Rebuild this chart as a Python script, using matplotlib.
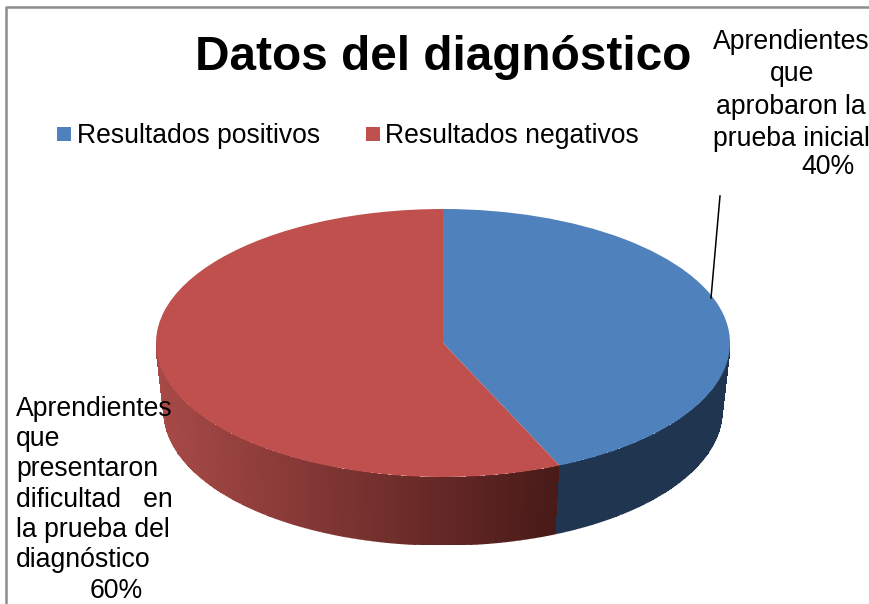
import matplotlib
matplotlib.use('Agg')
import matplotlib.pyplot as plt
from matplotlib.collections import LineCollection
import numpy as np

plt.rcParams['font.family'] = ['Liberation Sans', 'DejaVu Sans']

categorias = ['Resultados positivos', 'Resultados negativos']
porciones = [43.35, 56.65]  # area as drawn, the labels say 40/60
colores = ['#4F81BD', '#C0504D']
etiqueta_der = ['Aprendientes', 'que', 'aprobaron la', 'prueba inicial', '40%']
etiqueta_izq = ['Aprendientes', 'que', 'presentaron', 'dificultad   en', 'la prueba del', 'diagnóstico', '60%']

W, H = 870, 604
fig = plt.figure(figsize=(W / 100, H / 100), dpi=100)

# full figure axes in pixels, for texts and frame
bg = fig.add_axes([0, 0, 1, 1])
bg.set_xlim(0, W)
bg.set_ylim(H, 0)
bg.axis('off')
bg.plot([6, 6, W], [H, 7, 7], color='#8c8c8c', lw=1.8, zorder=1)

# pie axes: the unit circle gets squashed into the ellipse
x0, x1, y0, y1 = 156, 730, 209, 545
rx = (x1 - x0) / 2
ry = 134
prof = (y1 - y0 - 2 * ry) / ry
ax = fig.add_axes([x0 / W, 1 - y1 / H, (x1 - x0) / W, (y1 - y0) / H])
ax.pie(porciones, colors=colores, startangle=90, counterclock=False, radius=1,
       wedgeprops={'linewidth': 0})
ax.set_aspect('auto')
ax.set_xlim(-1, 1)
ax.set_ylim(-1 - prof, 1)
ax.axis('off')
for w in ax.patches:
    w.set_zorder(5)

# side wall, bottom rim a bit narrower than the top one
encoge = 0.972
corte = np.pi / 2 - 2 * np.pi * porciones[0] / 100 + 2 * np.pi
rojo_ini = np.array([0xA8, 0x4A, 0x47]) / 255
rojo_fin = np.array([0x48, 0x1A, 0x18]) / 255
azul = '#1F3550'

angs = np.linspace(np.pi, 2 * np.pi, 361)
abajo_x = np.cos(angs) * encoge
abajo_y = np.sin(angs) - prof
xx = np.vstack([np.cos(angs), abajo_x])
yy = np.vstack([np.sin(angs), abajo_y])

medio = (angs[:-1] + angs[1:]) / 2
t = np.clip((np.cos(medio) + 1) / (np.cos(corte) + 1), 0, 1)
tonos = rojo_ini[None, :] + (rojo_fin - rojo_ini)[None, :] * t[:, None]
tonos[medio >= corte] = matplotlib.colors.to_rgb(azul)
ax.pcolormesh(xx, yy, tonos[None, :, :], shading='flat', zorder=2,
              antialiased=False, linewidth=0)

# smooth the jagged outer edge
puntos = np.column_stack([abajo_x, abajo_y])
tramos = np.stack([puntos[:-1], puntos[1:]], axis=1)
ax.add_collection(LineCollection(tramos, colors=tonos, linewidths=1.0, zorder=3))
for sx in [-1, 1]:
    ax.plot([sx, sx * encoge], [0, -prof], color=tonos[0 if sx < 0 else -1], lw=1.0, zorder=3)

# leader line
bg.plot([720, 711], [196, 298], color='black', lw=1.1, zorder=6)
bg.set_zorder(3)
ax.set_zorder(2)

bg.text(443, 58, 'Datos del diagnóstico', fontsize=34.4, fontweight='bold',
        ha='center', va='center', color='black')

# legend
for x_sq, x_tx, nom, col in zip([57, 366], [77, 385], categorias, colores):
    bg.fill([x_sq, x_sq + 14, x_sq + 14, x_sq], [127, 127, 141, 141], color=col, lw=0)
    bg.text(x_tx, 136, nom, fontsize=19.1, ha='left', va='center', color='black')

# data labels
for txt, y in zip(etiqueta_der, [42, 74, 107, 139, 167]):
    x = 828 if txt == '40%' else 791
    if txt == 'que':
        x = 792
    bg.text(x, y, txt, fontsize=19.2, ha='center', va='center', color='black')
for txt, y in zip(etiqueta_izq, [409, 439, 469, 500, 530, 560, 591]):
    x = 116 if txt == '60%' else 16
    ha = 'center' if txt == '60%' else 'left'
    bg.text(x, y, txt, fontsize=19.2, ha=ha, va='center', color='black')

fig.savefig('out.png', dpi=100, facecolor='white')
